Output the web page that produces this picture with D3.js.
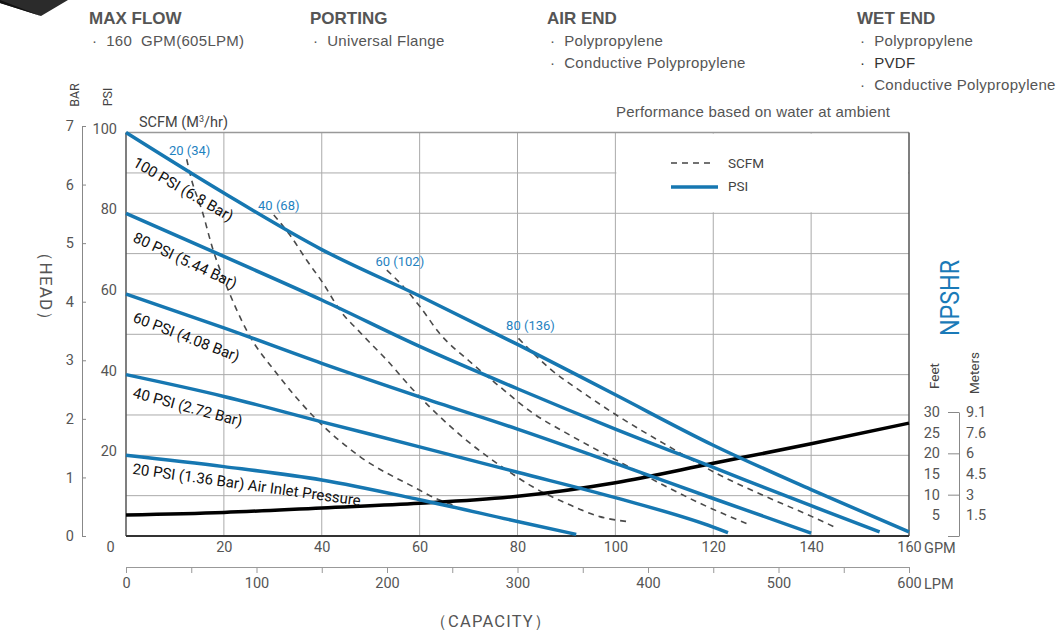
<!DOCTYPE html>
<html>
<head>
<meta charset="utf-8">
<script src="https://cdn.jsdelivr.net/npm/d3@7/dist/d3.min.js"></script>
<style>
body { margin: 0; background: #fff; }
svg text { font-family: Roboto, "Liberation Sans", sans-serif; }
.hdr text { font-family: "Liberation Sans", Arial, sans-serif; }
</style>
</head>
<body>
<script>
// ---- axis ticks ----
var gpmTicks = [0, 20, 40, 60, 80, 100, 120, 140, 160];
var lpmTicks = [0, 50, 100, 150, 200, 250, 300, 350, 400, 450, 500, 550, 600];
var psiTicks = [20, 40, 60, 80, 100];
var barTicks = [0, 1, 2, 3, 4, 5, 6, 7];
var feetTicks = [5, 10, 15, 20, 25, 30];
var meterLabels = ["1.5", "3", "4.5", "6", "7.6", "9.1"];

// ---- air inlet pressure curves (GPM -> PSI head) ----
var psiNames = ["100 PSI (6.8 Bar)", "80 PSI (5.44 Bar)", "60 PSI (4.08 Bar)",
                "40 PSI (2.72 Bar)", "20 PSI (1.36 Bar) Air Inlet Pressure"];
var flow100 = [0, 20, 40, 60, 80, 100, 120, 140, 160];
var head100 = [100, 85, 71, 59.5, 47.5, 35, 22.5, 11.5, 1];
var flow80 = [0, 20, 40, 60, 80, 100, 120, 140, 154];
var head80 = [80, 69.3, 58.5, 47, 36.5, 26.5, 17, 7.5, 1];
var flow60 = [0, 20, 40, 60, 80, 100, 120, 140];
var head60 = [60, 51.6, 42.8, 34.5, 26.5, 18, 9.3, 0.7];
var flow40 = [0, 20, 40, 60, 80, 100, 120, 123];
var head40 = [40, 34.6, 28.3, 22.1, 15.8, 9.5, 2.2, 0.8];
var flow20 = [0, 20, 40, 60, 80, 92];
var head20 = [20, 17.2, 13.9, 9, 3.6, 0.4];

// ---- air consumption curves, SCFM (M3/hr) ----
var scfmNames = ["20 (34)", "40 (68)", "60 (102)", "80 (136)"];
var scfm20Flow = [12.4, 13.4, 15.5, 17.8, 20.6, 25, 30.8, 39, 47.8, 58.7, 64.1, 66.8];
var scfm20Head = [93.4, 88.3, 80.8, 70.9, 61.8, 50.2, 40.3, 28.8, 19.7, 12.2, 8.9, 7.7];
var scfm40Flow = [30.2, 33.5, 36.9, 40.3, 43.7, 47.8, 53.3, 58.7, 64.1, 70.3, 77, 83.1, 90, 96.8, 103];
var scfm40Head = [79.6, 74.6, 68.4, 62.6, 56, 50.5, 43.6, 36.2, 29.6, 23, 17, 12.2, 8.1, 4.8, 3.5];
var scfm60Flow = [53.3, 56.7, 60.1, 64.1, 70, 76.4, 83.2, 90, 100.2, 110.5, 117.3, 126.8];
var scfm60Head = [65.9, 61.8, 56.8, 50.2, 43.5, 37, 30.4, 25.5, 18.8, 12.2, 8.1, 3.1];
var scfm80Flow = [80.2, 83.2, 86.6, 93.4, 100.2, 110.5, 120.7, 130.9, 140.2, 145.2];
var scfm80Head = [49, 45.3, 41.5, 35.5, 30, 22.5, 15.5, 9.7, 4.8, 2];

// ---- NPSHR (feet) ----
var npshrFlow = [0, 20, 40, 60, 80, 100, 120, 140, 160];
var npshrFeet = [5.1, 5.7, 6.8, 7.9, 9.6, 12.9, 17.6, 22.3, 27.3];

function zip(a, b) { return a.map(function (v, i) { return [v, b[i]]; }); }

var psiCurves = [zip(flow100, head100), zip(flow80, head80), zip(flow60, head60),
                 zip(flow40, head40), zip(flow20, head20)];
var scfmCurves = [zip(scfm20Flow, scfm20Head), zip(scfm40Flow, scfm40Head),
                  zip(scfm60Flow, scfm60Head), zip(scfm80Flow, scfm80Head)];
var npshr = zip(npshrFlow, npshrFeet);

var blue = "#1677b1", grey = "#555";

var svg = d3.select("body").append("svg")
    .attr("width", 1062).attr("height", 634)
    .style("background", "#fff");

// scales
var x = d3.scaleLinear().domain([0, 160]).range([126, 909]);
var xl = d3.scaleLinear().domain([0, 600]).range([126, 909]);
var y = d3.scaleLinear().domain([0, 100]).range([536, 132.6]);
var yb = d3.scaleLinear().domain([0, 7]).range([536, 126]);
var yf = d3.scaleLinear().domain([0, 30]).range([536, 412]);

// ---- header ----
var hdr = svg.append("g").attr("class", "hdr");
hdr.append("polygon").attr("points", "0,0 68,0 41,16 0,3").attr("fill", "#2b2b2b");
hdr.append("polygon").attr("points", "0,0 41,16 0,3").attr("fill", "#111");

var headCols = [
    { t: "MAX FLOW", x: 89, items: ["160\u00a0\u00a0GPM(605LPM)"] },
    { t: "PORTING", x: 310, items: ["Universal Flange"] },
    { t: "AIR END", x: 547, items: ["Polypropylene", "Conductive Polypropylene"] },
    { t: "WET END", x: 857, items: ["Polypropylene", "PVDF", "Conductive Polypropylene"] }
];
headCols.forEach(function (c) {
    hdr.append("text").attr("x", c.x).attr("y", 24)
        .attr("font-size", 17).attr("font-weight", "bold").attr("fill", "#555")
        .text(c.t);
    c.items.forEach(function (it, i) {
        hdr.append("text").attr("x", c.x + 3).attr("y", 46 + i * 22)
            .attr("font-size", 15).attr("fill", it == "PVDF" ? "#333" : "#555")
            .attr("letter-spacing", 0.3)
            .text("\u00b7\u00a0\u00a0" + it);
    });
});
hdr.append("text").attr("x", 616).attr("y", 117).attr("font-size", 15)
    .attr("letter-spacing", 0.2)
    .attr("fill", "#555").text("Performance based on water at ambient");

// ---- grid ----
var grid = svg.append("g");
grid.selectAll(".vg").data(gpmTicks.slice(1, -1)).enter().append("line")
    .attr("x1", function (d) { return x(d); }).attr("x2", function (d) { return x(d); })
    .attr("y1", y(100)).attr("y2", y(0))
    .attr("stroke", "#aaa").attr("stroke-width", 1);
grid.selectAll(".hg").data(d3.range(10, 100, 10)).enter().append("line")
    .attr("x1", x(0)).attr("x2", x(160))
    .attr("y1", function (d) { return y(d); }).attr("y2", function (d) { return y(d); })
    .attr("stroke", "#aaa").attr("stroke-width", 1);
// blank legend area
grid.append("rect").attr("x", x(100) + 1).attr("y", y(100) + 1)
    .attr("width", x(160) - x(100) - 2).attr("height", y(80) - y(100) - 2)
    .attr("fill", "#fff");
// frame
grid.append("line").attr("x1", x(0)).attr("x2", x(160)).attr("y1", y(100)).attr("y2", y(100))
    .attr("stroke", "#999").attr("stroke-width", 1.5);
grid.append("line").attr("x1", x(0)).attr("x2", x(0)).attr("y1", y(100)).attr("y2", y(0))
    .attr("stroke", "#555").attr("stroke-width", 1.5);
grid.append("line").attr("x1", x(160)).attr("x2", x(160)).attr("y1", y(100)).attr("y2", y(0))
    .attr("stroke", "#555").attr("stroke-width", 1.5);
grid.append("line").attr("x1", x(0)).attr("x2", x(160)).attr("y1", y(0)).attr("y2", y(0))
    .attr("stroke", "#333").attr("stroke-width", 1.8);

// ---- curves ----
var line = d3.line().x(function (d) { return x(d[0]); }).y(function (d) { return y(d[1]); })
    .curve(d3.curveMonotoneX);
var lineFt = d3.line().x(function (d) { return x(d[0]); }).y(function (d) { return yf(d[1]); })
    .curve(d3.curveMonotoneX);

svg.append("g").selectAll("path").data(scfmCurves).enter().append("path")
    .attr("d", line).attr("fill", "none").attr("stroke", "#4a4a4a")
    .attr("stroke-width", 1.6).attr("stroke-dasharray", "6,5");

svg.append("path").datum(npshr).attr("d", lineFt).attr("fill", "none")
    .attr("stroke", "#000").attr("stroke-width", 3.5);

svg.append("g").selectAll("path").data(psiCurves).enter().append("path")
    .attr("d", line).attr("fill", "none").attr("stroke", blue).attr("stroke-width", 3.5);

// psi curve labels
var labAngle = [30, 25, 21, 15, 8];
var labDy = [33, 28, 27.5, 22.7, 18.4];
svg.append("g").selectAll("text").data(psiNames).enter().append("text")
    .attr("transform", function (d, i) {
        return "translate(" + (x(0) + 6) + "," + (y(psiCurves[i][0][1]) + labDy[i]) + ") rotate(" + labAngle[i] + ")";
    })
    .attr("font-size", 15).attr("fill", "#111").text(function (d) { return d; });

// scfm labels
var scfmOff = [[3, -4], [5, -5], [13, -4], [12, -8]];
svg.append("g").selectAll("text").data(scfmNames).enter().append("text")
    .attr("x", function (d, i) { return x(scfmCurves[i][0][0]) + scfmOff[i][0]; })
    .attr("y", function (d, i) { return y(scfmCurves[i][0][1]) + scfmOff[i][1]; })
    .attr("text-anchor", "middle").attr("font-size", 13).attr("fill", "#1f82bf")
    .text(function (d) { return d; });

// ---- legend ----
var lg = svg.append("g");
lg.append("line").attr("x1", 671).attr("x2", 715).attr("y1", 163).attr("y2", 163)
    .attr("stroke", "#444").attr("stroke-width", 1.3).attr("stroke-dasharray", "6,5");
lg.append("line").attr("x1", 671).attr("x2", 718).attr("y1", 187).attr("y2", 187)
    .attr("stroke", blue).attr("stroke-width", 3.5);
lg.append("text").attr("x", 728).attr("y", 168).attr("font-size", 13.5).attr("fill", "#444")
    .attr("font-family", "Liberation Sans").text("SCFM");
lg.append("text").attr("x", 728).attr("y", 191).attr("font-size", 13.5).attr("fill", "#444")
    .attr("font-family", "Liberation Sans").text("PSI");

// ---- left axes ----
var barAxis = svg.append("g").attr("transform", "translate(82,0)")
    .call(d3.axisLeft(yb).tickValues(barTicks).tickFormat(d3.format("d"))
        .tickSize(-4).tickSizeOuter(0).tickPadding(8));
barAxis.select(".domain").attr("stroke", "#888");
barAxis.selectAll(".tick line").attr("stroke", "#888");
barAxis.selectAll("text").attr("font-size", 14.5).attr("fill", grey).attr("font-family", "Roboto");

var psiAxis = svg.append("g").attr("transform", "translate(117,-4)")
    .call(d3.axisLeft(y).tickValues(psiTicks).tickSize(0).tickPadding(0));
psiAxis.select(".domain").remove();
psiAxis.selectAll("text").attr("font-size", 14.5).attr("fill", grey).attr("font-family", "Roboto");

svg.append("text").attr("transform", "translate(79,95) rotate(-90)").attr("text-anchor", "middle")
    .attr("font-size", 12.5).attr("fill", "#444").text("BAR");
svg.append("text").attr("transform", "translate(112,97) rotate(-90)").attr("text-anchor", "middle")
    .attr("font-size", 12.5).attr("fill", "#444").text("PSI");
svg.append("text").attr("transform", "translate(40,287) rotate(90)").attr("text-anchor", "middle")
    .attr("font-size", 17).attr("fill", grey).attr("letter-spacing", 1.2).text("\uff08HEAD\uff09");

var sc = svg.append("text").attr("x", 139).attr("y", 127).attr("font-size", 14.5).attr("fill", "#444");
sc.append("tspan").text("SCFM (M");
sc.append("tspan").attr("font-size", 9).attr("dy", -5).text("3");
sc.append("tspan").attr("dy", 5).text("/hr)");

// ---- bottom axes ----
var gpmAxis = svg.append("g").attr("transform", "translate(0," + y(0) + ")")
    .call(d3.axisBottom(x).tickValues(gpmTicks).tickSize(0).tickPadding(6));
gpmAxis.select(".domain").remove();
gpmAxis.selectAll("text").attr("font-size", 14.5).attr("fill", grey)
    .attr("dx", function (d) { return d == 0 ? -16 : 0; });
svg.append("text").attr("x", 924).attr("y", 553).attr("font-size", 14.5).attr("fill", grey).text("GPM");

var lpmAxis = svg.append("g").attr("transform", "translate(0,567)")
    .call(d3.axisBottom(xl).tickValues(lpmTicks).tickSize(6).tickSizeOuter(0).tickPadding(5)
        .tickFormat(function (d) { return d % 100 == 0 ? d : ""; }));
lpmAxis.select(".domain").attr("stroke", "#999");
lpmAxis.selectAll(".tick line").attr("stroke", "#999");
lpmAxis.selectAll("text").attr("font-size", 14.5).attr("fill", grey);
svg.append("text").attr("x", 924).attr("y", 589).attr("font-size", 14.5).attr("fill", grey).text("LPM");

svg.append("text").attr("x", 491).attr("y", 627).attr("text-anchor", "middle")
    .attr("font-size", 16.5).attr("fill", grey).attr("letter-spacing", 1.2).text("\uff08CAPACITY\uff09");

// ---- right NPSHR axes ----
var ftAxis = svg.append("g").attr("transform", "translate(959,0)")
    .call(d3.axisLeft(yf).tickValues(feetTicks).tickSize(0).tickPadding(19));
ftAxis.select(".domain").remove();
ftAxis.selectAll("text").attr("font-size", 14.5).attr("fill", grey);

var mAxis = svg.append("g").attr("transform", "translate(959,0)")
    .call(d3.axisRight(yf).tickValues(feetTicks).tickSize(0).tickPadding(7)
        .tickFormat(function (d, i) { return meterLabels[i]; }));
mAxis.select(".domain").remove();
mAxis.selectAll("text").attr("font-size", 14.5).attr("fill", grey);

var tAxis = svg.append("g").attr("transform", "translate(959,0)")
    .call(d3.axisLeft(yf).tickValues([0, 10, 20, 30]).tickSize(11).tickSizeOuter(0)
        .tickFormat(""));
tAxis.select(".domain").attr("stroke", "#888");
tAxis.selectAll(".tick line").attr("stroke", "#888");

svg.append("text").attr("transform", "translate(939,376) rotate(-90)").attr("text-anchor", "middle")
    .attr("font-size", 13.5).attr("fill", "#444").text("Feet");
svg.append("text").attr("transform", "translate(979,373) rotate(-90)").attr("text-anchor", "middle")
    .attr("font-size", 13.5).attr("fill", "#444").text("Meters");
svg.append("text").attr("transform", "translate(959,298) rotate(-90)").attr("text-anchor", "middle")
    .attr("font-size", 26).attr("fill", "#1a7ab8").attr("textLength", 76)
    .attr("lengthAdjust", "spacingAndGlyphs").text("NPSHR");
</script>
</body>
</html>
